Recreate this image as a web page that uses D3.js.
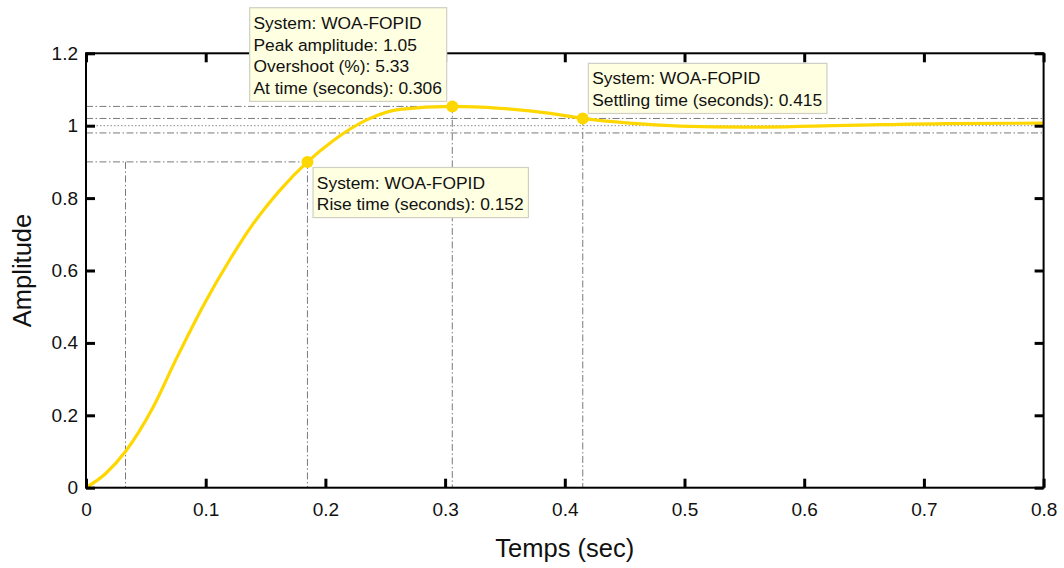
<!DOCTYPE html>
<html>
<head>
<meta charset="utf-8">
<script src="https://cdn.jsdelivr.net/npm/d3@7/dist/d3.min.js"></script>
<style>
  html, body { margin: 0; padding: 0; background: #fff; }
  svg { display: block; font-family: "Liberation Sans", Arial, sans-serif; }
</style>
</head>
<body>
<svg id="chart" width="1064" height="568"></svg>
<script>
// Step response of the WOA-FOPID controlled loop
const timeSec   = [0, 0.0167, 0.033, 0.0557, 0.075, 0.099, 0.12, 0.139, 0.161, 0.185,
                   0.207, 0.2345, 0.262, 0.306, 0.346, 0.388, 0.415, 0.454, 0.496,
                   0.552, 0.636, 0.719, 0.8];
const amplitude = [0, 0.04, 0.10, 0.22, 0.353, 0.509, 0.629, 0.726, 0.818, 0.90,
                   0.96, 1.016, 1.045, 1.0533, 1.048, 1.034, 1.02, 1.007, 0.999,
                   0.996, 1.001, 1.006, 1.007];

const xTicks = [0, 0.1, 0.2, 0.3, 0.4, 0.5, 0.6, 0.7, 0.8];
const yTicks = [0, 0.2, 0.4, 0.6, 0.8, 1, 1.2];

// Step characteristics
const systemName   = "WOA-FOPID";
const finalValue   = 1.0;
const riseHigh     = 0.9;
const riseStartT   = 0.033;
const riseEndT     = 0.185;
const peakT        = 0.306;
const peakAmp      = 1.0533;
const settleT      = 0.415;
const settleBand   = 0.02;
const settleAmp    = 1.02;

const svg = d3.select("#chart");
const W = 1064, H = 568;
const margin = { left: 86, right: 20.4, top: 53.3, bottom: 80.3 };

const x = d3.scaleLinear().domain([0, 0.8]).range([margin.left, W - margin.right]);
const y = d3.scaleLinear().domain([0, 1.2]).range([H - margin.bottom, margin.top]);

svg.append("rect").attr("width", W).attr("height", H).attr("fill", "#fff");

// Characteristic guide lines
const guide = svg.append("g").attr("fill", "none").attr("stroke", "#7a7a7a")
  .attr("stroke-width", 1).attr("stroke-dasharray", "7,2.5,1.5,2.5");

const x0 = x(0), x1 = x(0.8), yb = y(0);
// settling band
[finalValue + settleBand, finalValue - settleBand].forEach(v => {
  guide.append("line").attr("x1", x0).attr("x2", x1).attr("y1", y(v)).attr("y2", y(v));
});
// final value (dotted)
svg.append("line").attr("x1", x0).attr("x2", x1)
  .attr("y1", y(finalValue)).attr("y2", y(finalValue))
  .attr("stroke", "#8a8a8a").attr("stroke-width", 1).attr("stroke-dasharray", "1.5,2");
// peak
guide.append("line").attr("x1", x0).attr("x2", x(peakT)).attr("y1", y(peakAmp)).attr("y2", y(peakAmp));
guide.append("line").attr("x1", x(peakT)).attr("x2", x(peakT)).attr("y1", y(peakAmp)).attr("y2", yb);
// rise time
guide.append("line").attr("x1", x0).attr("x2", x(riseEndT)).attr("y1", y(riseHigh)).attr("y2", y(riseHigh));
guide.append("line").attr("x1", x(riseStartT)).attr("x2", x(riseStartT)).attr("y1", y(riseHigh)).attr("y2", yb);
guide.append("line").attr("x1", x(riseEndT)).attr("x2", x(riseEndT)).attr("y1", y(riseHigh)).attr("y2", yb);
// settling time
guide.append("line").attr("x1", x(settleT)).attr("x2", x(settleT)).attr("y1", y(settleAmp)).attr("y2", yb);

// Response curve
const pts = timeSec.map((t, i) => [t, amplitude[i]]);
const line = d3.line().x(d => x(d[0])).y(d => y(d[1])).curve(d3.curveMonotoneX);
svg.append("path").datum(pts).attr("d", line)
  .attr("fill", "none").attr("stroke", "#ffd700").attr("stroke-width", 3.2)
  .attr("stroke-linejoin", "round");

// Axes: ticks inside on all four sides
const fmt = d3.format("~g");
const axB = svg.append("g").attr("transform", `translate(0,${yb})`)
  .call(d3.axisBottom(x).tickValues(xTicks).tickSizeInner(-9).tickSizeOuter(0).tickPadding(14.5).tickFormat(fmt));
const axT = svg.append("g").attr("transform", `translate(0,${y(1.2)})`)
  .call(d3.axisTop(x).tickValues(xTicks).tickSizeInner(-9).tickSizeOuter(0).tickFormat(""));
const axL = svg.append("g").attr("transform", `translate(${x0},0)`)
  .call(d3.axisLeft(y).tickValues(yTicks).tickSizeInner(-9).tickSizeOuter(0).tickPadding(8).tickFormat(fmt));
const axR = svg.append("g").attr("transform", `translate(${x1},0)`)
  .call(d3.axisRight(y).tickValues(yTicks).tickSizeInner(-9).tickSizeOuter(0).tickFormat(""));

[axB, axT, axL, axR].forEach(g => {
  g.select(".domain").remove();
  g.selectAll(".tick line").attr("stroke", "#000").attr("stroke-width", 3);
  g.selectAll("text").attr("font-size", 19).attr("fill", "#111")
    .attr("font-family", "'Liberation Sans', Arial, sans-serif");
});

svg.append("rect").attr("x", x0).attr("y", y(1.2)).attr("width", x1 - x0).attr("height", yb - y(1.2))
  .attr("fill", "none").attr("stroke", "#000").attr("stroke-width", 2);

// Axis titles
svg.append("text").attr("x", (x0 + x1) / 2).attr("y", 556.7).attr("text-anchor", "middle")
  .attr("font-size", 25.5).attr("fill", "#111").text("Temps (sec)");
svg.append("text").attr("transform", `translate(31,${(y(0) + y(1.2)) / 2}) rotate(-90)`)
  .attr("text-anchor", "middle").attr("font-size", 25.5).attr("fill", "#111").text("Amplitude");

// Marker points
const marks = [
  { t: riseEndT, v: riseHigh },
  { t: peakT, v: peakAmp },
  { t: settleT, v: settleAmp }
];
svg.selectAll("circle.mark").data(marks).join("circle").attr("class", "mark")
  .attr("cx", d => x(d.t)).attr("cy", d => y(d.v)).attr("r", 6).attr("fill", "#ffd700");

// Data tips
function dataTip(px, py, lines, dx, dy) {
  const g = svg.append("g");
  const rect = g.append("rect").attr("fill", "#ffffe1").attr("stroke", "#cfcfc4").attr("stroke-width", 1.2);
  const txt = g.append("text").attr("font-size", 17.4).attr("fill", "#111");
  lines.forEach((s, i) => txt.append("tspan").attr("x", 0).attr("y", i * 21.8).text(s));
  const bb = txt.node().getBBox();
  const w = bb.width + 8.5, h = lines.length * 21.8 + 6.5;
  const left = dx > 0 ? px + dx : px + dx - w;
  const top  = dy > 0 ? py + dy : py + dy - h;
  rect.attr("x", left).attr("y", top).attr("width", w).attr("height", h);
  txt.attr("transform", `translate(${left + 3.8},${top + 21})`);
}

dataTip(x(riseEndT), y(riseHigh), [
  `System: ${systemName}`,
  `Rise time (seconds): ${(riseEndT - riseStartT).toFixed(3)}`
], 5.6, 5.6);

dataTip(x(peakT), y(peakAmp), [
  `System: ${systemName}`,
  `Peak amplitude: ${peakAmp.toFixed(2)}`,
  `Overshoot (%): ${((peakAmp - finalValue) / finalValue * 100).toFixed(2)}`,
  `At time (seconds): ${peakT.toFixed(3)}`
], -5.6, -5);

dataTip(x(settleT), y(settleAmp), [
  `System: ${systemName}`,
  `Settling time (seconds): ${settleT.toFixed(3)}`
], 5.6, -5);
</script>
</body>
</html>
